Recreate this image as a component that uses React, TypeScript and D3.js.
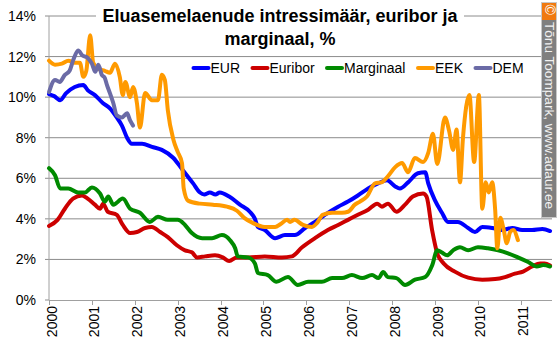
import React from "react";
import * as d3 from "d3";

type Pt = [number, number];

const yTicks = [0, 2, 4, 6, 8, 10, 12, 14];
const xYears = [2000, 2001, 2002, 2003, 2004, 2005, 2006, 2007, 2008, 2009, 2010, 2011];
const titleLines = ["Eluasemelaenude intressimäär, euribor ja", "marginaal, %"];
const credit = "Tõnu Toompark, www.adaur.ee";

const EUR: Pt[] = [
  [2000.0, 10.15], [2000.12, 10.05], [2000.26, 9.85], [2000.4, 10.2], [2000.6, 10.5], [2000.8, 10.6],
  [2000.9, 10.35], [2001.07, 10.1], [2001.26, 9.7], [2001.42, 9.45], [2001.58, 9.0], [2001.7, 8.6],
  [2001.82, 8.0], [2001.93, 7.7], [2002.17, 7.7], [2002.4, 7.55], [2002.63, 7.4], [2002.9, 7.0],
  [2003.12, 6.4], [2003.36, 5.75], [2003.52, 5.3], [2003.62, 5.2], [2003.75, 5.3], [2003.88, 5.2],
  [2003.98, 5.3], [2004.2, 5.1], [2004.45, 4.7], [2004.68, 4.35], [2004.8, 4.0], [2004.87, 3.6],
  [2005.03, 3.45], [2005.27, 3.05], [2005.5, 3.2], [2005.73, 3.2], [2005.97, 3.55], [2006.2, 3.85],
  [2006.43, 4.2], [2006.74, 4.6], [2006.97, 4.85], [2007.2, 5.15], [2007.44, 5.5], [2007.67, 5.75],
  [2007.88, 5.9], [2008.07, 5.6], [2008.18, 5.5], [2008.37, 5.8], [2008.6, 6.25], [2008.77, 6.3],
  [2008.84, 5.75], [2009.0, 4.9], [2009.16, 4.3], [2009.3, 3.85], [2009.53, 3.85], [2009.77, 3.55],
  [2009.93, 3.35], [2010.1, 3.6], [2010.33, 3.55], [2010.56, 3.45], [2010.8, 3.55], [2011.03, 3.45],
  [2011.26, 3.45], [2011.5, 3.5], [2011.68, 3.4],
];

const EURIBOR: Pt[] = [
  [2000.0, 3.65], [2000.2, 3.95], [2000.37, 4.5], [2000.56, 5.0], [2000.77, 5.15], [2000.9, 5.0],
  [2001.07, 4.7], [2001.19, 4.5], [2001.26, 4.75], [2001.37, 4.35], [2001.58, 4.2], [2001.72, 3.7],
  [2001.89, 3.3], [2002.05, 3.35], [2002.24, 3.55], [2002.4, 3.6], [2002.59, 3.35], [2002.77, 3.1],
  [2002.98, 2.7], [2003.17, 2.45], [2003.33, 2.35], [2003.45, 2.1], [2003.64, 2.15], [2003.87, 2.2],
  [2004.05, 2.1], [2004.2, 1.92], [2004.38, 2.1], [2004.64, 2.1], [2005.03, 2.15], [2005.43, 2.1],
  [2005.66, 2.15], [2005.9, 2.6], [2006.2, 3.05], [2006.5, 3.45], [2006.74, 3.7], [2006.97, 3.95],
  [2007.2, 4.2], [2007.44, 4.45], [2007.65, 4.75], [2007.76, 4.6], [2007.9, 4.75], [2008.1, 4.35],
  [2008.3, 4.7], [2008.48, 5.1], [2008.72, 5.25], [2008.8, 5.1], [2008.93, 3.45], [2009.05, 2.3],
  [2009.2, 1.8], [2009.46, 1.4], [2009.77, 1.1], [2010.1, 1.0], [2010.4, 1.03], [2010.63, 1.13],
  [2010.86, 1.3], [2011.05, 1.4], [2011.26, 1.65], [2011.45, 1.8], [2011.55, 1.8], [2011.68, 1.7],
];

const MARGINAAL: Pt[] = [
  [2000.0, 6.5], [2000.14, 6.15], [2000.26, 5.5], [2000.45, 5.5], [2000.68, 5.3], [2000.84, 5.3],
  [2001.0, 5.55], [2001.19, 5.25], [2001.3, 4.85], [2001.38, 5.1], [2001.5, 4.7], [2001.72, 5.0],
  [2001.89, 4.5], [2002.12, 4.3], [2002.35, 3.85], [2002.54, 4.1], [2002.77, 3.95], [2003.0, 3.95],
  [2003.17, 3.7], [2003.33, 3.3], [2003.57, 3.05], [2003.8, 3.05], [2004.03, 3.2], [2004.22, 2.95],
  [2004.34, 2.55], [2004.4, 2.15], [2004.64, 2.1], [2004.8, 1.8], [2004.87, 1.33], [2005.1, 1.23],
  [2005.3, 0.9], [2005.57, 1.13], [2005.8, 0.74], [2006.04, 0.9], [2006.36, 0.9], [2006.6, 1.08],
  [2006.83, 1.08], [2007.06, 1.23], [2007.3, 1.08], [2007.53, 1.23], [2007.68, 1.08], [2007.79, 1.38],
  [2007.9, 1.13], [2008.1, 1.08], [2008.3, 0.74], [2008.53, 1.0], [2008.77, 1.13], [2008.93, 1.7],
  [2009.05, 2.45], [2009.15, 2.35], [2009.28, 2.2], [2009.42, 2.45], [2009.58, 2.6], [2009.77, 2.45],
  [2010.0, 2.6], [2010.23, 2.55], [2010.47, 2.45], [2010.7, 2.3], [2010.93, 2.1], [2011.17, 1.87],
  [2011.37, 1.65], [2011.52, 1.72], [2011.68, 1.65],
];

const EEK: Pt[] = [
  [2000.0, 11.8], [2000.14, 11.6], [2000.3, 11.65], [2000.45, 11.8], [2000.6, 11.7], [2000.72, 11.7],
  [2000.8, 11.0], [2000.87, 11.3], [2000.96, 13.05], [2001.03, 11.7], [2001.15, 11.4], [2001.3, 11.3],
  [2001.42, 11.2], [2001.54, 11.65], [2001.65, 11.0], [2001.72, 10.1], [2001.78, 10.75], [2001.89, 10.0],
  [2001.96, 10.5], [2002.05, 9.7], [2002.12, 8.5], [2002.24, 10.2], [2002.4, 9.85], [2002.54, 9.85],
  [2002.63, 11.1], [2002.7, 10.85], [2002.77, 9.35], [2002.9, 7.9], [2003.0, 7.3], [2003.1, 6.75],
  [2003.14, 5.5], [2003.24, 4.9], [2003.52, 4.75], [2003.82, 4.7], [2004.15, 4.6], [2004.38, 4.4],
  [2004.55, 4.05], [2004.75, 3.8], [2005.03, 3.6], [2005.27, 3.6], [2005.4, 3.75], [2005.55, 3.95],
  [2005.62, 3.85], [2005.72, 3.95], [2005.92, 3.7], [2006.13, 3.6], [2006.25, 3.8], [2006.38, 4.2],
  [2006.6, 4.3], [2006.83, 4.3], [2006.97, 4.35], [2007.13, 4.7], [2007.25, 4.85], [2007.41, 5.1],
  [2007.6, 5.75], [2007.75, 5.8], [2007.9, 6.1], [2008.07, 6.55], [2008.23, 6.75], [2008.37, 6.3],
  [2008.53, 7.0], [2008.72, 6.8], [2008.84, 7.25], [2008.95, 8.2], [2009.05, 6.7], [2009.23, 9.0],
  [2009.33, 8.3], [2009.42, 7.4], [2009.5, 8.4], [2009.58, 5.8], [2009.65, 8.0], [2009.8, 10.1],
  [2009.91, 6.8], [2010.02, 10.1], [2010.1, 4.5], [2010.18, 5.8], [2010.25, 5.3], [2010.33, 5.8],
  [2010.4, 4.45], [2010.45, 2.55], [2010.52, 4.05], [2010.6, 3.45], [2010.67, 2.8], [2010.75, 3.35],
  [2010.82, 3.45], [2010.93, 2.95],
];

const DEM: Pt[] = [
  [2000.0, 10.25], [2000.14, 10.85], [2000.25, 10.75], [2000.37, 11.1], [2000.48, 11.3], [2000.56, 11.8],
  [2000.68, 12.3], [2000.78, 12.05], [2000.89, 11.95], [2001.0, 11.65], [2001.08, 11.25], [2001.15, 11.6],
  [2001.23, 11.1], [2001.3, 10.95], [2001.35, 10.6], [2001.42, 10.2], [2001.5, 9.7], [2001.58, 9.1],
  [2001.7, 9.0], [2001.82, 9.2], [2001.89, 8.85], [2001.96, 8.6],
];

const seriesNames = ["EUR", "Euribor", "Marginaal", "EEK", "DEM"];
const seriesData = [EUR, EURIBOR, MARGINAAL, EEK, DEM];
const seriesColors = ["#0000ff", "#cc0000", "#008a00", "#ff9a00", "#6b6ba6"];

const FONT = "'Liberation Sans', Arial, Helvetica, sans-serif";

export default function App() {
  const W = 560, H = 342;
  const left = 49, right = 552, top = 16, bottom = 300;
  const x = d3.scaleLinear().domain([2000, 2011.725]).range([left, right]);
  const y = d3.scaleLinear().domain([0, 14]).range([bottom, top]);
  const line = d3.line<Pt>().x(d => x(d[0])).y(d => y(d[1])).curve(d3.curveMonotoneX);

  const legendWidths = [29.5, 45, 61.5, 28, 31];
  let lx = 192;
  const legendPos = legendWidths.map(w => {
    const p = lx;
    lx += 18 + w + 11.5;
    return p;
  });

  return (
    <svg width={W} height={H} style={{ position: "absolute", left: 0, top: 0, background: "#fff" }} fontFamily={FONT}>
      <rect x={0} y={0} width={W} height={H} fill="#fff" />
      {yTicks.map(t => (
        <g key={t}>
          {t > 0 && <line x1={45} x2={right} y1={y(t)} y2={y(t)} stroke="#8c8c8c" strokeWidth={1} />}
          {t === 0 && <line x1={45} x2={left} y1={y(t)} y2={y(t)} stroke="#8c8c8c" strokeWidth={1} />}
          <text x={36} y={y(t) + 5} textAnchor="end" fontSize={14} fill="#000">{t}%</text>
        </g>
      ))}
      <line x1={left} x2={left} y1={top} y2={bottom} stroke="#a0a0a0" strokeWidth={1} />
      <line x1={left} x2={right} y1={bottom + 0.5} y2={bottom + 0.5} stroke="#a0a0a0" strokeWidth={1} />
      {xYears.map(yr => (
        <g key={yr}>
          <line x1={Math.round(x(yr)) + 0.5} x2={Math.round(x(yr)) + 0.5} y1={bottom} y2={bottom + 5} stroke="#a0a0a0" />
          <text transform={`translate(${x(yr) + 7.5},${306}) rotate(-90)`} textAnchor="end" fontSize={14} fill="#000">{yr}</text>
        </g>
      ))}
      {seriesData.map((s, i) => (
        <path key={seriesNames[i]} d={line(s) || ""} fill="none" stroke={seriesColors[i]} strokeWidth={4}
          strokeLinejoin="round" strokeLinecap="round" />
      ))}
      <rect x={96} y={2} width={368} height={46} fill="#fff" />
      {titleLines.map((t, i) => (
        <text key={i} x={280} y={22 + i * 23} textAnchor="middle" fontSize={18} fontWeight="bold" fill="#000">{t}</text>
      ))}
      {seriesNames.map((n, i) => (
        <g key={n}>
          <line x1={legendPos[i] + 1.5} x2={legendPos[i] + 16.5} y1={68} y2={68} stroke={seriesColors[i]} strokeWidth={4} strokeLinecap="round" />
          <text x={legendPos[i] + 18.5} y={73} fontSize={14} fill="#000">{n}</text>
        </g>
      ))}
      <rect x={541.5} y={2.5} width={15} height={215} fill="#7f7f7f" stroke="#c8c8c8" strokeWidth={1} />
      <rect x={542} y={3} width={14} height={17} fill="#f07a10" />
      <text transform={`translate(544.5,4.5) rotate(90)`} fontSize={14} fill="#fff">©</text>
      <text transform={`translate(545,22) rotate(90)`} fontSize={13.6} fill="#f2f2f2">{credit}</text>
    </svg>
  );
}
